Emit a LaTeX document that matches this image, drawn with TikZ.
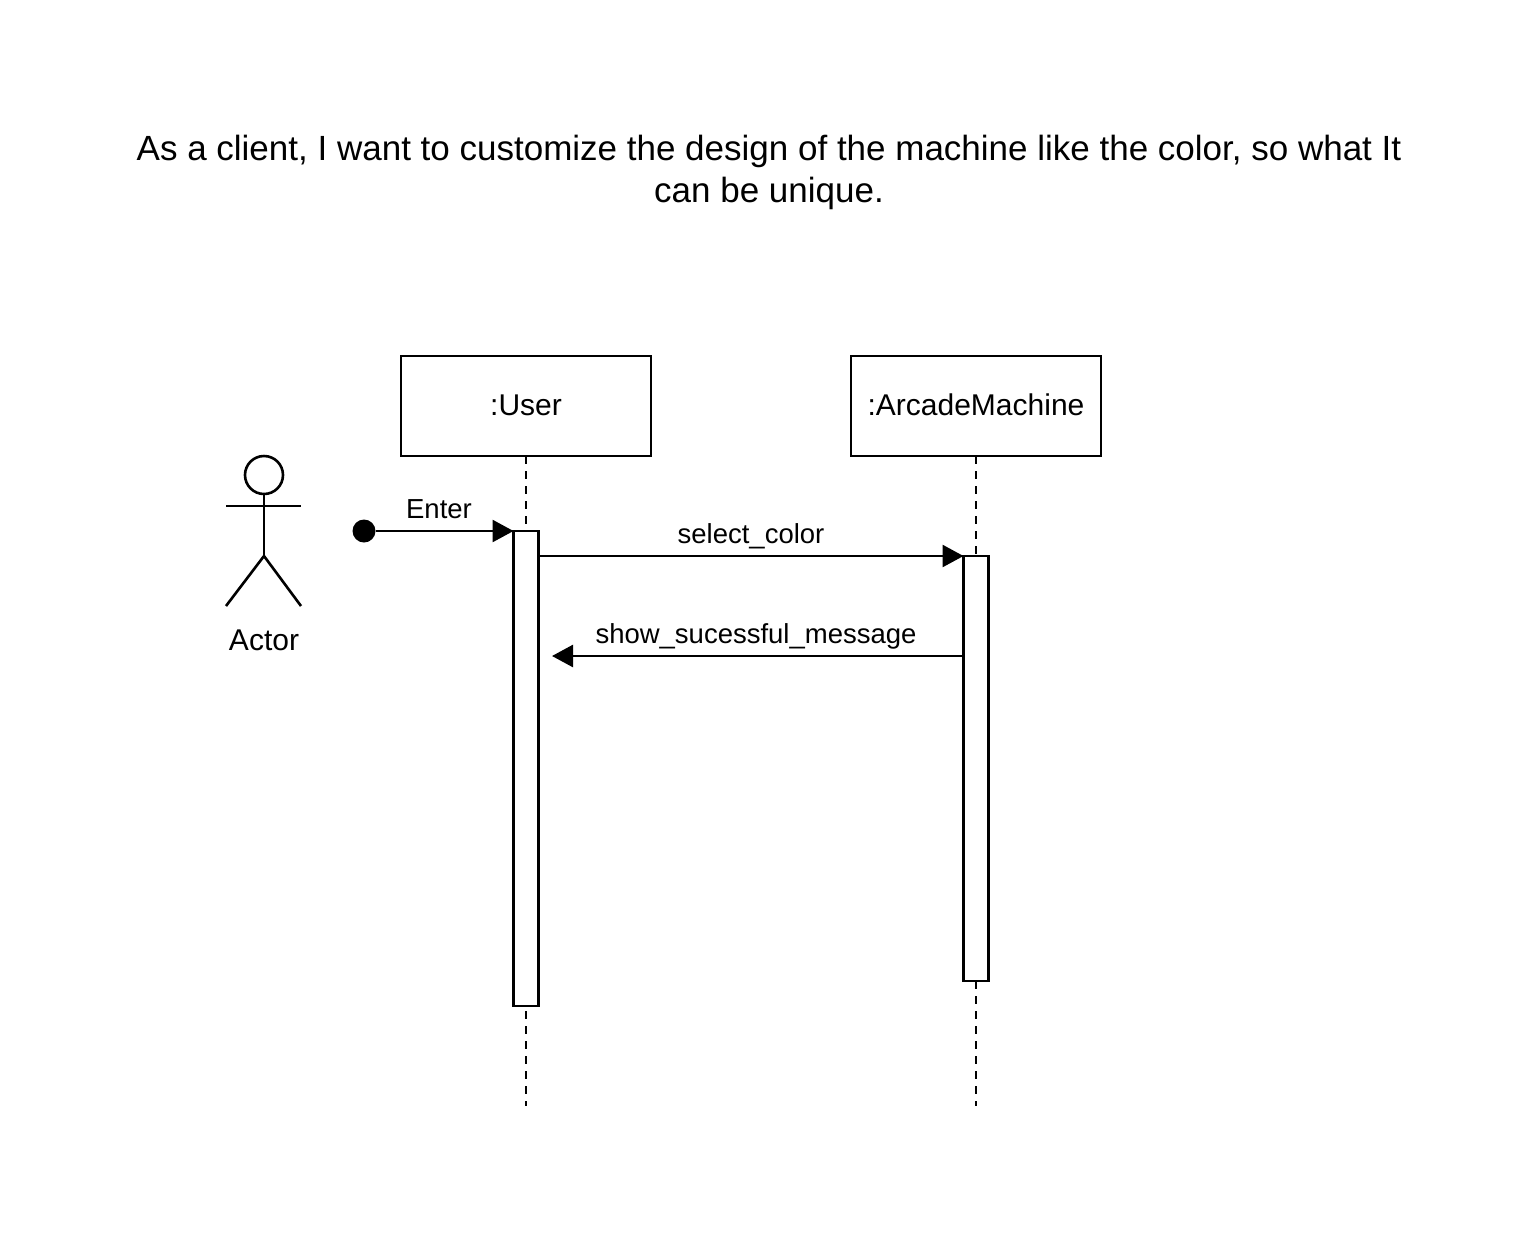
\documentclass[tikz,border=0pt]{standalone}
\usepackage{fontspec}
\setmainfont{Liberation Sans}
\usetikzlibrary{arrows.meta}
\tikzset{
  obj/.style={draw,line width=1.3pt,outer sep=0pt,minimum width=125pt,minimum height=50pt,inner sep=0pt,font=\fontsize{15}{18}\selectfont},
  act/.style={draw,line width=1.3pt,outer sep=0pt,fill=white,minimum width=12.5pt,inner sep=0pt},
  life/.style={line width=1.3pt,dash pattern=on 3.75pt off 3.75pt},
  msg/.style={line width=1.3pt,-{Triangle[length=10.5pt,width=11pt]}},
  lbl/.style={inner sep=0pt,font=\fontsize{13.75}{16}\selectfont},
  stick/.style={line width=1.3pt}
}
\begin{document}
\begin{tikzpicture}[x=0.5pt,y=-0.5pt]
\useasboundingbox (0,0) rectangle (1538,1233);

\node (title) at (769,172)[align=center,inner sep=0pt,font=\fontsize{17.5}{21}\selectfont]{As a client, I want to customize the design of the machine like the color, so what It\\can be unique.};

\node[obj] (user) at (526,406){\raisebox{1pt}{:User}};
\node[obj] (machine) at (976,406){\raisebox{1pt}{:ArcadeMachine}};
\coordinate (userend) at (526,1106);
\coordinate (machineend) at (976,1106);
\draw[life] (user) -- (userend);
\draw[life] (machine) -- (machineend);

\node[act,minimum height=237.5pt] (useract) at (526,768.5){};
\node[act,minimum height=212.5pt] (machineact) at (976,768.5){};

% actor
\node[draw,stick,circle,outer sep=0pt,minimum size=19pt,inner sep=0pt] (head) at (264,475){};
\coordinate (hip) at (264,556);
\coordinate (arml) at (226,506);
\coordinate (armr) at (301,506);
\coordinate (legl) at (226,606);
\coordinate (legr) at (301,606);
\draw[stick] (head) -- (hip);
\draw[stick] (arml) -- (armr);
\draw[stick] (legl) -- (hip) -- (legr);
\node[lbl,font=\fontsize{15}{18}\selectfont] (actor) at (264,640){Actor};

% messages
\node[circle,fill=black,outer sep=0pt,minimum size=11.5pt,inner sep=0pt] (start) at (364,531){};
\draw[msg] (start) -- (useract.north west);
\node[lbl] (enter) at (439,509){Enter};

\draw[msg] (useract.east |- 0,556) -- (machineact.north west);
\node[lbl] (select) at (751,536){select\_color};

\coordinate (retend) at (552,656);
\draw[msg] (machineact.west |- 0,656) -- (retend);
\node[lbl] (show) at (756,636){show\_sucessful\_message};

\end{tikzpicture}
\end{document}
